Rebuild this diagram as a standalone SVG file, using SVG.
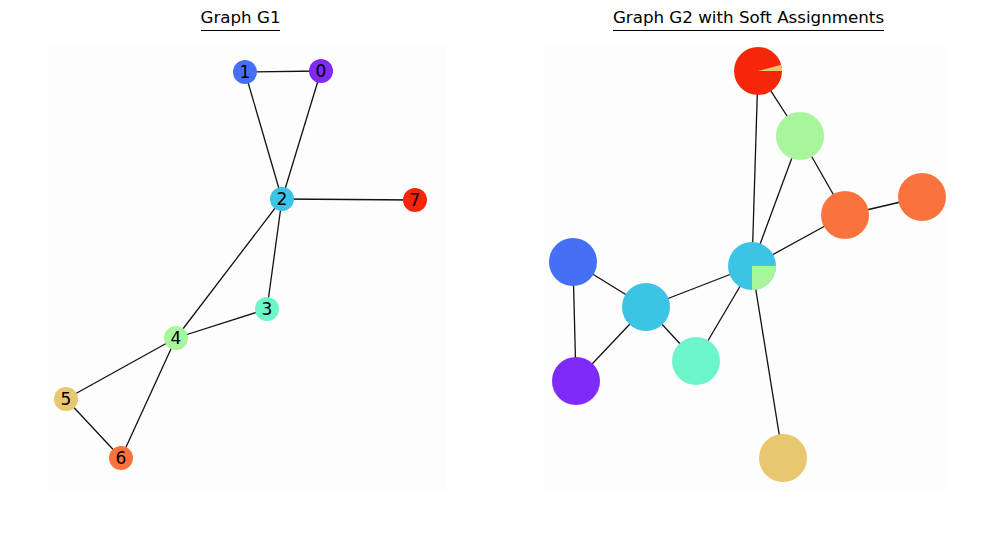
<svg xmlns="http://www.w3.org/2000/svg" width="982" height="546" viewBox="0 0 982 546">
<style>
.t{font-family:"DejaVu Sans",sans-serif;font-size:16.7px;fill:#000;text-anchor:middle}
.l{font-family:"DejaVu Sans",sans-serif;font-size:17px;fill:#000;text-anchor:middle;dominant-baseline:central}
.e{stroke:#111;stroke-width:1.3;fill:none}
.u{stroke:#000;stroke-width:1.2}
</style>
<rect width="982" height="546" fill="#fff"/>
<rect x="48" y="45" width="398" height="447" fill="#fdfdfd"/>
<rect x="545" y="45" width="402" height="447" fill="#fdfdfd"/>
<g id="titles">
<text class="t" x="240.5" y="23">Graph G1</text>
<line class="u" x1="201" y1="30.5" x2="280" y2="30.5"/>
<text class="t" x="748.5" y="23">Graph G2 with Soft Assignments</text>
<line class="u" x1="613" y1="30.5" x2="884" y2="30.5"/>
</g>
<g id="edges">
<line class="e" x1="245" y1="72" x2="321" y2="71"/>
<line class="e" x1="245" y1="72" x2="282" y2="199"/>
<line class="e" x1="321" y1="71" x2="282" y2="199"/>
<line class="e" x1="282" y1="199" x2="415" y2="200"/>
<line class="e" x1="282" y1="199" x2="267" y2="309"/>
<line class="e" x1="282" y1="199" x2="176" y2="338"/>
<line class="e" x1="267" y1="309" x2="176" y2="338"/>
<line class="e" x1="176" y1="338" x2="66" y2="399"/>
<line class="e" x1="176" y1="338" x2="121" y2="458"/>
<line class="e" x1="66" y1="399" x2="121" y2="458"/>
<line class="e" x1="758" y1="71" x2="752" y2="266"/>
<line class="e" x1="758" y1="71" x2="800" y2="136"/>
<line class="e" x1="800" y1="136" x2="752" y2="266"/>
<line class="e" x1="800" y1="136" x2="845" y2="215"/>
<line class="e" x1="845" y1="215" x2="922" y2="197"/>
<line class="e" x1="845" y1="215" x2="752" y2="266"/>
<line class="e" x1="752" y1="266" x2="646" y2="307"/>
<line class="e" x1="752" y1="266" x2="696" y2="361"/>
<line class="e" x1="752" y1="266" x2="783" y2="458"/>
<line class="e" x1="573" y1="262" x2="646" y2="307"/>
<line class="e" x1="573" y1="262" x2="576" y2="381"/>
<line class="e" x1="646" y1="307" x2="576" y2="381"/>
<line class="e" x1="646" y1="307" x2="696" y2="361"/>
</g>
<g id="g1-n0"><circle cx="321" cy="71" r="12" fill="#7f2af8"/><text class="l" x="321" y="71">0</text></g>
<g id="g1-n1"><circle cx="245" cy="72" r="12" fill="#4570f5"/><text class="l" x="245" y="72">1</text></g>
<g id="g1-n2"><circle cx="282" cy="199" r="12" fill="#3cc4e4"/><text class="l" x="282" y="199">2</text></g>
<g id="g1-n3"><circle cx="267" cy="309" r="12" fill="#6cf4cb"/><text class="l" x="267" y="309">3</text></g>
<g id="g1-n4"><circle cx="176" cy="338" r="12" fill="#a9f59c"/><text class="l" x="176" y="338">4</text></g>
<g id="g1-n5"><circle cx="66" cy="399" r="12" fill="#e9c76f"/><text class="l" x="66" y="399">5</text></g>
<g id="g1-n6"><circle cx="121" cy="458" r="12" fill="#fb733c"/><text class="l" x="121" y="458">6</text></g>
<g id="g1-n7"><circle cx="415" cy="200" r="12" fill="#f5260a"/><text class="l" x="415" y="200">7</text></g>
<g id="g2-a"><circle cx="758" cy="71" r="24" fill="#f5260a"/><path d="M758 71 L782 71 A24 24 0 0 0 781.2 64.8 Z" fill="#e9c76f"/></g>
<g id="g2-b"><circle cx="800" cy="136" r="24" fill="#a9f59c"/></g>
<g id="g2-c"><circle cx="845" cy="215" r="24" fill="#fb733c"/></g>
<g id="g2-d"><circle cx="922" cy="197" r="24" fill="#fb733c"/></g>
<g id="g2-e"><circle cx="752" cy="266" r="24" fill="#3cc4e4"/><path d="M752 266 L776 266 A24 24 0 0 1 752 290 Z" fill="#a9f59c"/></g>
<g id="g2-f"><circle cx="573" cy="262" r="24" fill="#4570f5"/></g>
<g id="g2-g"><circle cx="646" cy="307" r="24" fill="#3cc4e4"/></g>
<g id="g2-h"><circle cx="576" cy="381" r="24" fill="#7f2af8"/></g>
<g id="g2-i"><circle cx="696" cy="361" r="24" fill="#6cf4cb"/></g>
<g id="g2-j"><circle cx="783" cy="458" r="24" fill="#e9c76f"/></g>
</svg>
